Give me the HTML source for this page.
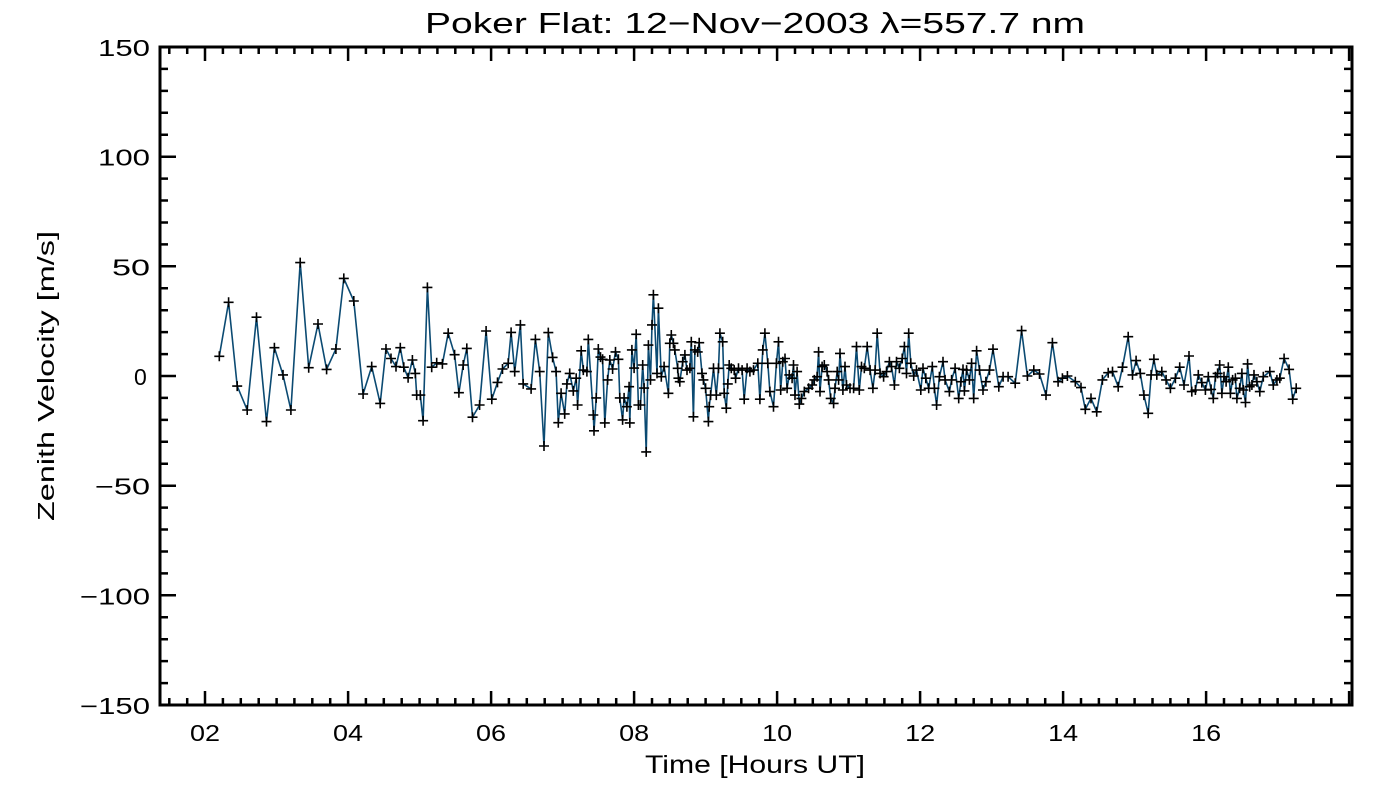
<!DOCTYPE html>
<html><head><meta charset="utf-8"><style>
html,body{margin:0;padding:0;background:#fff;}
svg{display:block;font-family:"Liberation Sans",sans-serif;}
</style></head><body>
<svg id="chart" width="1400" height="800" viewBox="0 0 1400 800">
<rect x="0" y="0" width="1400" height="800" fill="#fff"/>
<text x="425" y="33" font-size="29" textLength="660" lengthAdjust="spacingAndGlyphs" fill="#000">Poker Flat: 12−Nov−2003 λ=557.7 nm</text>
<text x="0" y="0" font-size="23" text-anchor="middle" textLength="290" lengthAdjust="spacingAndGlyphs" fill="#000" transform="translate(54,376) rotate(-90)">Zenith Velocity [m/s]</text>
<text x="645" y="773" font-size="25" textLength="220" lengthAdjust="spacingAndGlyphs" fill="#000">Time [Hours UT]</text>
<g id="ticks"></g>
<g id="series"></g>
<rect x="160" y="47" width="1192" height="658" fill="none" stroke="#000" stroke-width="3"/>
</svg>
<script>
const hours = [2.2,2.33,2.45,2.59,2.72,2.86,2.97,3.09,3.2,3.33,3.45,3.58,3.7,3.83,3.94,4.08,4.21,4.33,4.45,4.53,4.6,4.67,4.73,4.78,4.84,4.9,4.94,4.96,5.01,5.05,5.11,5.17,5.24,5.32,5.4,5.49,5.55,5.61,5.66,5.74,5.84,5.93,6.01,6.09,6.16,6.24,6.28,6.33,6.41,6.45,6.56,6.62,6.68,6.74,6.8,6.86,6.91,6.94,6.98,7.03,7.06,7.1,7.15,7.19,7.21,7.26,7.29,7.34,7.36,
7.43,7.44,7.47,7.5,7.53,7.56,7.59,7.63,7.66,7.7,7.74,7.78,7.8,7.84,7.86,7.9,7.93,7.94,7.97,8.0,8.03,8.06,8.09,8.12,8.14,8.17,8.2,8.23,8.25,8.27,8.32,8.34,8.38,8.42,8.48,8.5,8.52,8.55,8.57,8.61,8.62,8.64,8.68,8.71,8.74,8.78,8.8,8.83,8.85,8.89,8.91,8.95,8.97,9.0,9.04,9.05,9.07,9.11,9.15,9.18,9.2,9.24,9.26,9.29,9.31,9.33,9.36,9.4,9.42,9.46,
9.51,9.54,9.58,9.62,9.67,9.73,9.76,9.8,9.83,9.87,9.9,9.95,9.99,10.02,10.05,10.08,10.11,10.14,10.17,10.21,10.23,10.25,10.28,10.31,10.34,10.38,10.44,10.49,10.52,10.56,10.58,10.6,10.63,10.66,10.7,10.72,10.75,10.79,10.81,10.84,10.86,10.88,10.92,10.95,10.97,11.02,11.07,11.11,11.15,11.18,11.22,11.26,11.3,11.34,11.37,11.4,11.44,11.49,11.53,11.57,11.6,11.64,11.67,11.71,11.75,11.78,11.81,11.84,11.87,11.91,11.95,12.01,12.04,12.08,12.12,12.17,12.2,12.23,12.27,
12.32,12.35,12.41,12.44,12.49,12.54,12.57,12.6,12.62,12.65,12.69,12.72,12.75,12.79,12.83,12.88,12.92,12.97,13.02,13.1,13.16,13.23,13.33,13.42,13.5,13.59,13.67,13.76,13.85,13.93,13.99,14.06,14.17,14.25,14.31,14.39,14.47,14.55,14.63,14.69,14.77,14.83,14.91,14.97,15.02,
15.08,15.13,15.19,15.23,15.27,15.31,15.38,15.44,15.5,15.57,15.63,15.69,15.76,15.8,15.85,15.89,15.94,15.99,16.03,16.07,16.1,16.13,16.16,16.19,16.22,16.25,16.28,16.31,16.34,16.37,16.41,16.43,16.47,16.5,16.52,16.55,16.58,16.61,16.64,16.67,16.71,16.75,16.8,16.89,16.94,16.99,17.03,17.09,17.16,17.21,17.26];
const velocity = [9,33.6,-4.6,-15.5,26.8,-20.8,12.9,0.5,-15.5,51.7,3.8,23.7,3,12.3,44.5,34.2,-8.2,4.3,-12.5,12.3,8,4.3,12.9,4,-0.8,7.3,1.2,-8.7,-8.7,-20.4,40.4,4,6,5.5,19.5,9.7,-7.6,5,12.6,-18.8,-13.2,20.5,-10.6,-2.9,3.2,5.8,19.9,2,23.3,-3.6,-5.9,16.7,2,-31.9,19.8,8.5,2,-21.3,-7.9,-17.3,-3.6,1.2,-6.8,-1,-13.2,11.5,2.7,2,16.7,
-17.8,-25,-10,12.3,8.6,7.6,-21.4,-1.8,7.3,3.2,11,7.6,-10,-20,-10,-14,-4.9,-21.4,11.9,3.6,19,-13.2,-13.2,5,-5.5,-34.6,14.1,-1.8,23.3,37,1.2,30.9,-0.3,4.3,-7.9,14.9,18.7,14.9,11.9,3.5,-1,-2.6,6.5,9.6,2.7,3.5,15.6,-18.6,11.9,11,15.2,1.2,-1.8,-5.6,-20.8,-14,-8.7,3.5,-8.7,3.5,19.5,15.6,-7.9,-14.7,-3.6,5,3.5,2.7,-1,3.5,
2.7,-10.6,3.5,2,2.7,5.8,-10.6,11.9,19.5,5.8,-7.1,-14,5.8,15.6,-6.4,6.5,8,-5.6,0.5,-1,5,-8.7,2,-12.8,-10.2,-7.1,-5.6,-4.1,-1.8,-0.3,11,-7.1,4.3,5,2,-1.8,-10.2,-12.5,-5.6,2,-1.8,10.3,-6.4,4.3,-4.1,-5.6,-5.6,13.4,-6.4,4.3,3.5,13.4,2.7,-5.6,2.7,19.5,1.2,-0.3,2,6.5,4.3,-4.1,6.5,3.5,8,13.4,1.2,19.5,5.8,0,2.7,-6.4,3.5,-1,-5.6,4.3,-5.6,-13.2,-0.3,
6.5,-1.8,-7.1,-1.8,3.5,-10.2,-2.6,3,-6.8,2.7,-1.8,5.8,-10.2,11.5,2.7,-6.4,-2.6,2.7,12.2,-4.9,-0.3,-0.3,-3.3,20.7,0,2.7,0.9,-8.7,15.2,-2.6,-1,0,-2.6,-5.3,-15.2,-10.2,-16.3,-1.8,1.5,2,-4.9,4,17.9,0.5,7,
1.2,-8.7,-17,0.5,7.6,0.5,2,-1.8,-5.6,-1,4,-4.1,9.1,-7.1,-6.4,0.5,-3,-6.4,-0.3,-6.1,-10.2,-0.3,1.2,5,-7.9,-0.3,-2.6,4,-7.9,-1.8,-1,-10.2,-5.6,1.2,-6.4,-12.1,5.5,-4.9,-4.1,0.5,-2.6,-7.1,-0.3,2,-4.1,-1.8,-1,8,3,-10.6,-5.6];
const xTickLabels = ["02","04","06","08","10","12","14","16"];
const xTickValues = [2,4,6,8,10,12,14,16];
const yTickLabels = ["−150","−100","−50","0","50","100","150"];
const yTickValues = [-150,-100,-50,0,50,100,150];
const yTickWidths = [70,70,55,0,38,52,52];

const NS = "http://www.w3.org/2000/svg";
const X0=160, X1=1352, Y0=705, Y1=47;
const xMin=1.37, xMax=18.04, yMin=-150, yMax=150;
function xs(h){return X0+(h-xMin)/(xMax-xMin)*(X1-X0);}
function ys(v){return Y0-(v-yMin)/(yMax-yMin)*(Y0-Y1);}
function mk(tag, attrs){const e=document.createElementNS(NS,tag);for(const k in attrs)e.setAttribute(k,attrs[k]);return e;}

const tg=document.getElementById('ticks');
let td="";
for(let h=1.5; h<=18.0001; h+=0.25){
  const x=xs(h).toFixed(1);
  const major=Math.abs(h-Math.round(h/2)*2)<1e-6;
  const L=major?14:7;
  td+=`M${x} ${Y0}V${Y0-L}M${x} ${Y1}V${Y1+L}`;
}
for(let v=-150; v<=150; v+=10){
  const y=ys(v).toFixed(1);
  const major=v%50===0;
  const L=major?16:8;
  td+=`M${X0} ${y}H${X0+L}M${X1} ${y}H${X1-L}`;
}
const tp=mk('path',{d:td,stroke:'#000','stroke-width':2.5,fill:'none'});


tg.appendChild(tp);
xTickValues.forEach((h,i)=>{
  const t=mk('text',{x:xs(h),y:741,'font-size':23,'text-anchor':'middle',textLength:30,lengthAdjust:'spacingAndGlyphs',fill:'#000'});
  t.textContent=xTickLabels[i];
  
  
  tg.appendChild(t);
});
yTickValues.forEach((v,i)=>{
  const w=yTickWidths[i];
  const attrs={x:150-(w||16),y:ys(v)+9,'font-size':23,fill:'#000'};
  if(w){attrs.textLength=w;attrs.lengthAdjust='spacingAndGlyphs';}
  const t=mk('text',attrs);
  t.textContent=yTickLabels[i];
  
  
  tg.appendChild(t);
});

const sg=document.getElementById('series');
const pts=hours.map((h,i)=>xs(h).toFixed(1)+","+ys(velocity[i]).toFixed(1)).join(" ");
const line=mk('polyline',{points:pts,fill:'none',stroke:'#0b4a72','stroke-width':1.6});


sg.appendChild(line);
let md="";
hours.forEach((h,i)=>{
  const x=xs(h), y=ys(velocity[i]);
  md+=`M${(x-5).toFixed(1)} ${y.toFixed(1)}h10M${x.toFixed(1)} ${(y-5).toFixed(1)}v10`;
});
const markers=mk('path',{d:md,stroke:'#000','stroke-width':1.6,fill:'none'});


sg.appendChild(markers);
</script>
</body></html>
